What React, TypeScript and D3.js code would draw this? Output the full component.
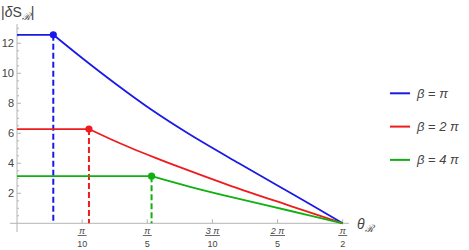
import React from "react";
import * as d3 from "d3";

// decaying part of each series: [theta, |dS|]
const blueCurve: [number, number][] = [
  [0.175, 12.566], [0.32, 10.95], [0.48, 9.25], [0.64, 7.65], [0.83, 5.95],
  [1.07, 4.0], [1.32, 2.02], [1.5708, 0],
];
const redCurve: [number, number][] = [
  [0.347, 6.283], [0.45, 5.62], [0.55, 5.02], [0.665, 4.38], [0.785, 3.74],
  [1.03, 2.5], [1.32, 1.15], [1.5708, 0],
];
const greenCurve: [number, number][] = [
  [0.649, 3.1416], [0.83, 2.45], [1.03, 1.76], [1.32, 0.82], [1.5708, 0],
];
// the cutoff points (flat part runs from theta = 0 up to here)
const markers: [number, number][] = [[0.175, 12.566], [0.347, 6.283], [0.649, 3.1416]];
const seriesColors = ["#1a1ae6", "#ee1c1c", "#10b010"];
const legendLabels = ["π", "2 π", "4 π"];

const yTicks = [2, 4, 6, 8, 10, 12];
const xTickVals = [Math.PI / 10, Math.PI / 5, (3 * Math.PI) / 10, (2 * Math.PI) / 5, Math.PI / 2];
const xTickNum = ["π", "π", "3 π", "2 π", "π"];
const xTickDen = ["10", "5", "10", "5", "2"];

export default function App() {
  const x = d3.scaleLinear().domain([0, Math.PI / 2]).range([17, 342.7]);
  const y = d3.scaleLinear().domain([0, 12]).range([223.3, 43.3]);
  const line = d3
    .line<[number, number]>()
    .x((d) => x(d[0]))
    .y((d) => y(d[1]))
    .curve(d3.curveCatmullRom.alpha(0.5));

  const series = [blueCurve, redCurve, greenCurve];
  const minor = d3.range(0.5, 13.01, 0.5).filter((v) => v % 2 !== 0);
  const axisCol = "#b4b4b4";
  const textCol = "#444";
  const font = "'Liberation Sans', Arial, sans-serif";

  return (
    <svg
      width={469}
      height={250}
      style={{ position: "absolute", left: 0, top: 0, background: "#fff" }}
      fontFamily={font}
    >
      {/* axes */}
      <line x1={10} x2={349} y1={y(0)} y2={y(0)} stroke={axisCol} />
      <line x1={x(0)} x2={x(0)} y1={24} y2={232} stroke={axisCol} />
      {minor.map((v) => (
        <line key={"m" + v} x1={x(0)} x2={x(0) + 2} y1={y(v)} y2={y(v)} stroke={axisCol} />
      ))}
      {yTicks.map((v) => (
        <g key={"y" + v}>
          <line x1={x(0)} x2={x(0) + 4} y1={y(v)} y2={y(v)} stroke={axisCol} />
          <text x={14} y={y(v) + 4} textAnchor="end" fontSize={11} fill={textCol}>
            {v}
          </text>
        </g>
      ))}
      {xTickVals.map((v, i) => (
        <g key={"x" + i}>
          <line x1={x(v)} x2={x(v)} y1={y(0)} y2={y(0) - 4} stroke={axisCol} />
          <text x={x(v)} y={233.5} textAnchor="middle" fontSize={9} fill={textCol} fontStyle="italic">
            {xTickNum[i]}
          </text>
          <line
            x1={x(v) - (xTickNum[i].length > 1 ? 7.5 : 4.5)}
            x2={x(v) + (xTickNum[i].length > 1 ? 7.5 : 4.5)}
            y1={235.5}
            y2={235.5}
            stroke={textCol}
            strokeWidth={0.8}
          />
          <text x={x(v)} y={247} textAnchor="middle" fontSize={9} fill={textCol}>
            {xTickDen[i]}
          </text>
        </g>
      ))}

      {/* axis labels */}
      <text x={1} y={17} fontSize={14} fill={textCol}>
        |<tspan fontStyle="italic">δ</tspan>S
        <tspan fontSize={10} dy={3} fontStyle="italic">ℛ</tspan>
        <tspan dy={-3}>|</tspan>
      </text>
      <text x={357} y={229} fontSize={14} fill={textCol}>
        <tspan fontStyle="italic">θ</tspan>
        <tspan fontSize={10} dy={3} fontStyle="italic">ℛ</tspan>
      </text>

      {/* dashed drop lines */}
      {markers.map((m, i) => (
        <line
          key={"d" + i}
          x1={x(m[0])}
          x2={x(m[0])}
          y1={y(m[1])}
          y2={y(0)}
          stroke={seriesColors[i]}
          strokeWidth={2}
          strokeDasharray="6,3"
        />
      ))}

      {/* flat parts */}
      {markers.map((m, i) => (
        <line
          key={"f" + i}
          x1={x(0)}
          x2={x(m[0])}
          y1={y(m[1])}
          y2={y(m[1])}
          stroke={seriesColors[i]}
          strokeWidth={1.8}
        />
      ))}
      {/* curves */}
      {series.map((s, i) => (
        <path key={"s" + i} d={line(s) || ""} fill="none" stroke={seriesColors[i]} strokeWidth={1.8} />
      ))}
      {markers.map((m, i) => (
        <circle key={"c" + i} cx={x(m[0])} cy={y(m[1])} r={3.6} fill={seriesColors[i]} />
      ))}

      {/* legend */}
      {legendLabels.map((lab, i) => (
        <g key={"l" + i} transform={`translate(0, ${93.3 + i * 33.3})`}>
          <line x1={390} x2={410} y1={0} y2={0} stroke={seriesColors[i]} strokeWidth={2} />
          <text x={417} y={4.5} fontSize={13} fill={textCol}>
            <tspan fontStyle="italic">β</tspan> = <tspan fontStyle="italic">{lab}</tspan>
          </text>
        </g>
      ))}
    </svg>
  );
}
